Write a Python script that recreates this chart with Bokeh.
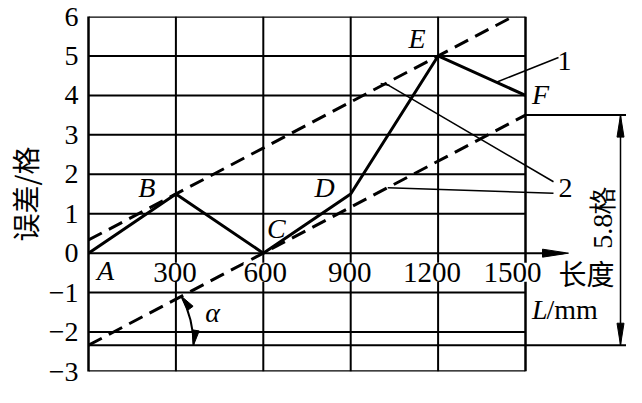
import math
from bokeh.plotting import figure
from bokeh.models import Range1d, FixedTicker
from bokeh.core.properties import value
from bokeh.embed import file_html
from bokeh.resources import INLINE

# ---------------- data ----------------
pos_mm = [0, 300, 600, 900, 1200, 1500]          # 长度 L/mm
err_ge = [0, 1.5, 0, 1.5, 5, 4]                  # 误差/格
point_names = ["A", "B", "C", "D", "E", "F"]
x_ticks = [300, 600, 900, 1200, 1500]
x_tick_labels = ["300", "600", "900", "1200", "1500"]
y_ticks = [-3, -2, -1, 0, 1, 2, 3, 4, 5, 6]
y_tick_labels = ["\u22123", "\u22122", "\u22121", "0", "1", "2", "3", "4", "5", "6"]
span_text = "5.8格"

# envelope lines (upper through B and E, lower through C, parallel)
slope = (err_ge[4] - err_ge[1]) / (pos_mm[4] - pos_mm[1])
b_up = err_ge[1] - slope * pos_mm[1]
b_lo = err_ge[2] - slope * pos_mm[2]
x0, x1 = pos_mm[0], pos_mm[-1]
y_lo_end = b_lo + slope * x1

# ---------------- geometry ----------------
W, H = 626, 387
LEFT, TOP, BOTTOM = 88, 16, 16
PLOT_W = 437                       # pixels for 0..1500 mm
FRAME_W = W - LEFT
FRAME_H = H - TOP - BOTTOM
x_end = x1 * FRAME_W / PLOT_W
sx = PLOT_W / x1                   # px per mm
sy = FRAME_H / 9.0                 # px per 格
k = sy / 42.22                     # vertical scale relative to reference

SERIF = value("Liberation Serif")
CJK = value("Noto Sans CJK SC")

p = figure(width=W, height=H, x_range=Range1d(0, x_end), y_range=Range1d(-3, 6),
           output_backend="svg", toolbar_location=None, x_axis_location=None,
           min_border_left=LEFT, min_border_right=0, min_border_top=TOP,
           min_border_bottom=BOTTOM, outline_line_color=None,
           background_fill_color="white", border_fill_color="white")
p.grid.visible = False

ax = p.yaxis[0]
ax.ticker = FixedTicker(ticks=y_ticks)
ax.major_label_overrides = {t: s for t, s in zip(y_ticks, y_tick_labels)}
ax.major_tick_line_color = None
ax.minor_tick_line_color = None
ax.axis_line_width = 2.5
ax.axis_line_color = "black"
ax.major_label_standoff = 4
ax.major_label_text_font = "Liberation Serif"
ax.major_label_text_font_size = "28px"
ax.major_label_text_color = "black"
ax.axis_label = "误差/格"
ax.axis_label_text_font = "Noto Sans CJK SC"
ax.axis_label_text_font_size = "28px"
ax.axis_label_text_font_style = "normal"
ax.axis_label_text_color = "black"
ax.axis_label_standoff = 1

# grid and box
hy = [t for t in y_ticks if -3 < t < 6]
p.segment(x0=[x0] * len(hy), y0=hy, x1=[x1] * len(hy), y1=hy, line_color="black", line_width=2)
p.segment(x0=x_ticks[:-1], y0=[-3] * 4, x1=x_ticks[:-1], y1=[6] * 4, line_color="black", line_width=2)
p.segment(x0=[x0, x0, x1], y0=[6, -3, -3], x1=[x1, x1, x1], y1=[6, -3, 6],
          line_color="black", line_width=2.5)

# extension lines for the 5.8格 dimension
p.segment(x0=[x1, x0], y0=[y_lo_end, b_lo], x1=[x_end, x_end], y1=[y_lo_end, b_lo],
          line_color="black", line_width=2)

# envelope dashed lines
p.line([x0, x1], [b_up + slope * x0, b_up + slope * x1], line_color="black",
       line_width=3, line_dash="15 8")
p.line([x0, x1], [b_lo + slope * x0, y_lo_end], line_color="black",
       line_width=3, line_dash="15 8")

# error polyline
p.line(pos_mm, err_ge, line_color="black", line_width=3)


def head(tx, ty, ang, L, Wd):
    dx, dy = math.cos(ang), math.sin(ang)
    bx, by = -L * dx, -L * dy
    nx, ny = -dy, dx
    xs = [tx, tx + (bx + nx * Wd / 2) / sx, tx + (bx - nx * Wd / 2) / sx]
    ys = [ty, ty + (by + ny * Wd / 2) / sy, ty + (by - ny * Wd / 2) / sy]
    return xs, ys


heads_x, heads_y = [], []

# x axis arrow (extension of y=0 line)
x_arrow_tip = x1 + 43 / sx
p.segment(x0=[x1], y0=[0], x1=[x_arrow_tip - 5 / sx], y1=[0], line_color="black", line_width=2)
hx, hy_ = head(x_arrow_tip, 0, 0, 26, 8)
heads_x.append(hx); heads_y.append(hy_)

# dimension arrow
xd = x1 + 95 / sx
p.segment(x0=[xd], y0=[y_lo_end], x1=[xd], y1=[b_lo], line_color="black", line_width=1.5)
hx, hy_ = head(xd, y_lo_end, math.pi / 2, 22, 7)
heads_x.append(hx); heads_y.append(hy_)
hx, hy_ = head(xd, b_lo, -math.pi / 2, 22, 7)
heads_x.append(hx); heads_y.append(hy_)

# angle alpha arc
R = 105
theta = math.atan(slope * sy / sx)
p.arc(x=[x0], y=[b_lo], radius=R, radius_units="screen", start_angle=0,
      end_angle=theta, line_color="black", line_width=2)
tx_top = x0 + R * math.cos(theta) / sx
ty_top = b_lo + R * math.sin(theta) / sy
hx, hy_ = head(tx_top, ty_top, theta + math.pi / 2 + 0.15, 15, 7)
heads_x.append(hx); heads_y.append(hy_)
hx, hy_ = head(x0 + R / sx, b_lo, -math.pi / 2 - 0.15, 15, 7)
heads_x.append(hx); heads_y.append(hy_)

p.patches(heads_x, heads_y, fill_color="black", line_color="black", line_width=1)

# leader lines
x_lead1 = 1400
y_lead1 = err_ge[4] + (err_ge[5] - err_ge[4]) * (x_lead1 - pos_mm[4]) / (x1 - pos_mm[4])
p.line([x_lead1, x1 + 33 / sx], [y_lead1, 4.96], line_color="black", line_width=1.5)
xa, xb = 1020, 1027
x_end2 = x1 + 28 / sx
p.line([xa, x_end2], [b_up + slope * xa, 1.81], line_color="black", line_width=1.5)
p.line([xb, x_end2], [b_lo + slope * xb, 1.52], line_color="black", line_width=1.5)
p.line([xa - 5 / sx, xa + 4 / sx], [b_up + slope * xa, b_up + slope * xa - 2 / sy],
       line_color="black", line_width=1.5)

# x tick labels (inside plot, white background)
p.text(x=x_ticks, y=[0] * len(x_ticks), text=x_tick_labels,
       x_offset=[-1, 2, -1, -6, -13], y_offset=[round(20 * k)] * len(x_ticks),
       text_align="center", text_baseline="middle", text_font=SERIF,
       text_font_size="29px", text_color="black",
       background_fill_color="white", padding=0)

# point labels
p.text(x=pos_mm, y=err_ge, text=point_names,
       x_offset=[17, -29, 13, -26, -21, 15],
       y_offset=[round(v * k) for v in [18, -8, -27, -8, -18, -1]],
       text_align="center", text_baseline="middle", text_font=SERIF,
       text_font_style="italic", text_font_size="28px", text_color="black")

# part numbers
p.text(x=[x1 + 39 / sx, x1 + 40 / sx], y=[4.86, 1.64], text=["1", "2"],
       text_align="center", text_baseline="middle", text_font=SERIF,
       text_font_size="28px", text_color="black")

# axis titles for length
p.text(x=[x1 + 61 / sx], y=[-0.51], text=["长度"], text_align="center",
       text_baseline="middle", text_font=CJK, text_font_size="28px", text_color="black")
p.text(x=[x1 + 22 / sx], y=[-1.44], text=["L"], text_align="right",
       text_baseline="middle", text_font=SERIF, text_font_style="italic",
       text_font_size="28px", text_color="black")
p.text(x=[x1 + 21 / sx], y=[-1.44], text=["/mm"], text_align="left",
       text_baseline="middle", text_font=SERIF, text_font_size="28px", text_color="black")

# dimension text
p.text(x=[x1 + 77 / sx], y=[0.91], text=[span_text], angle=[math.pi / 2],
       text_align="center", text_baseline="middle", text_font=SERIF,
       text_font_size="28px", text_color="black")

# alpha
p.text(x=[x0 + 124 / sx], y=[b_lo + 35 * k / sy], text=["α"], text_align="center",
       text_baseline="middle", text_font=SERIF, text_font_style="italic",
       text_font_size="28px", text_color="black")

open("out.html", "w").write(file_html(p, INLINE))
